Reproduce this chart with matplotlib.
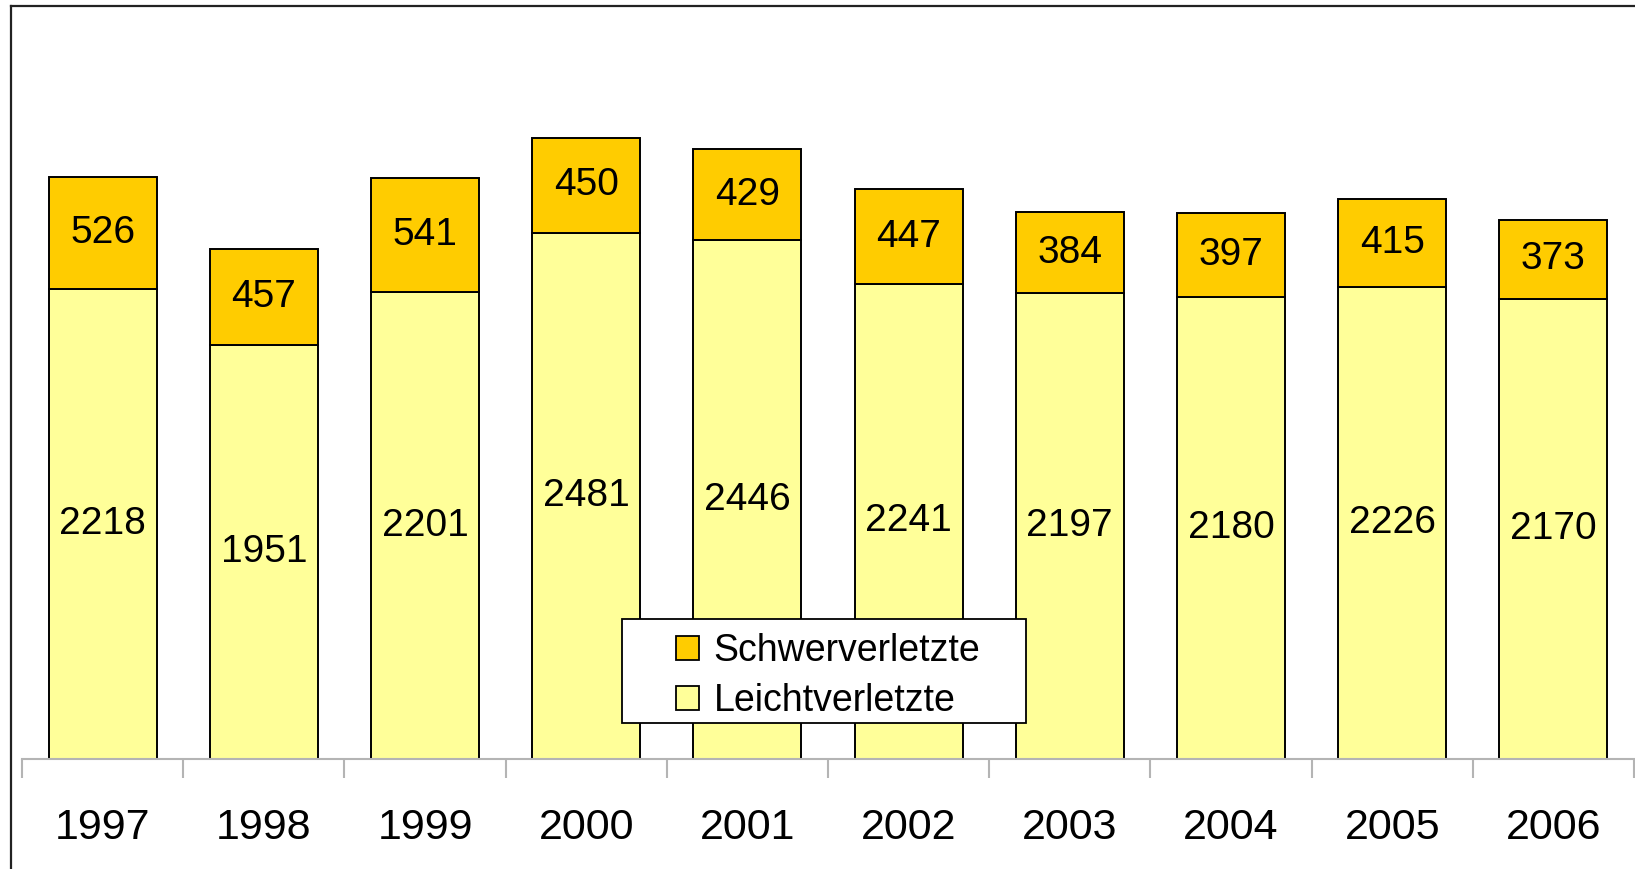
import matplotlib.pyplot as plt
from matplotlib.lines import Line2D
from matplotlib.patches import Patch, Rectangle

# Daten
jahre = ['1997', '1998', '1999', '2000', '2001', '2002', '2003', '2004', '2005', '2006']
leicht = [2218, 1951, 2201, 2481, 2446, 2241, 2197, 2180, 2226, 2170]
schwer = [526, 457, 541, 450, 429, 447, 384, 397, 415, 373]

gelb_hell = '#FFFF99'
gelb_dunkel = '#FFCC00'
achse_grau = '#b4b4b4'

plt.rcParams['font.family'] = ['Liberation Sans', 'DejaVu Sans']

W, H = 1635, 869
fig = plt.figure(figsize=(W / 100, H / 100), dpi=100)
ax = fig.add_axes([22 / W, 1 - 759 / H, (1634 - 22) / W, (759 - 17) / H])

x = list(range(len(jahre)))
b1 = ax.bar(x, leicht, width=0.67, color=gelb_hell, edgecolor='black', linewidth=1.4,
            label='Leichtverletzte')
b2 = ax.bar(x, schwer, width=0.67, bottom=leicht, color=gelb_dunkel, edgecolor='black',
            linewidth=1.4, label='Schwerverletzte')

ax.bar_label(b1, labels=[str(v) for v in leicht], label_type='center', fontsize=28)
ax.bar_label(b2, labels=[str(v) for v in schwer], label_type='center', fontsize=28)

ax.set_xlim(-0.5, len(jahre) - 0.5)
ax.set_ylim(0, 3500)

for s in ['top', 'right', 'left']:
    ax.spines[s].set_visible(False)
ax.spines['bottom'].set_color(achse_grau)
ax.spines['bottom'].set_linewidth(1.5)
ax.set_yticks([])

# Ticks an den Kategoriegrenzen, Beschriftung in der Mitte
ax.set_xticks([i - 0.5 for i in range(len(jahre) + 1)])
ax.set_xticklabels([])
ax.tick_params(axis='x', which='major', length=14, width=1.5, color=achse_grau)
ax.set_xticks(x, minor=True)
ax.set_xticklabels(jahre, minor=True, fontsize=31)
ax.tick_params(axis='x', which='minor', length=0, pad=35)

# Legende: Kasten von Hand, Einträge ohne Rahmen
fig.add_artist(Rectangle((622 / W, 1 - 723 / H), (1026 - 622) / W, (723 - 619) / H,
                         transform=fig.transFigure, facecolor='white', edgecolor='black',
                         linewidth=1.3, zorder=5))
handles = [Patch(facecolor=gelb_dunkel, edgecolor='black', linewidth=1.3, label='Schwerverletzte'),
           Patch(facecolor=gelb_hell, edgecolor='black', linewidth=1.3, label='Leichtverletzte')]
leg = fig.legend(handles=handles, loc='center left', bbox_to_anchor=(676 / W, 1 - 676 / H),
                 fontsize=27, frameon=False, handlelength=0.6, handleheight=0.6,
                 handletextpad=0.4, borderpad=0, labelspacing=0.38, borderaxespad=0)
leg.set_zorder(6)

# Rahmen um die Grafik (rechts und unten abgeschnitten)
fig.add_artist(Line2D([11 / W, 11 / W], [0, 1 - 6 / H], color='#222222', linewidth=1.6,
                      transform=fig.transFigure))
fig.add_artist(Line2D([11 / W, 1], [1 - 6 / H, 1 - 6 / H], color='#222222', linewidth=1.6,
                      transform=fig.transFigure))

fig.savefig('out.png', dpi=100)
